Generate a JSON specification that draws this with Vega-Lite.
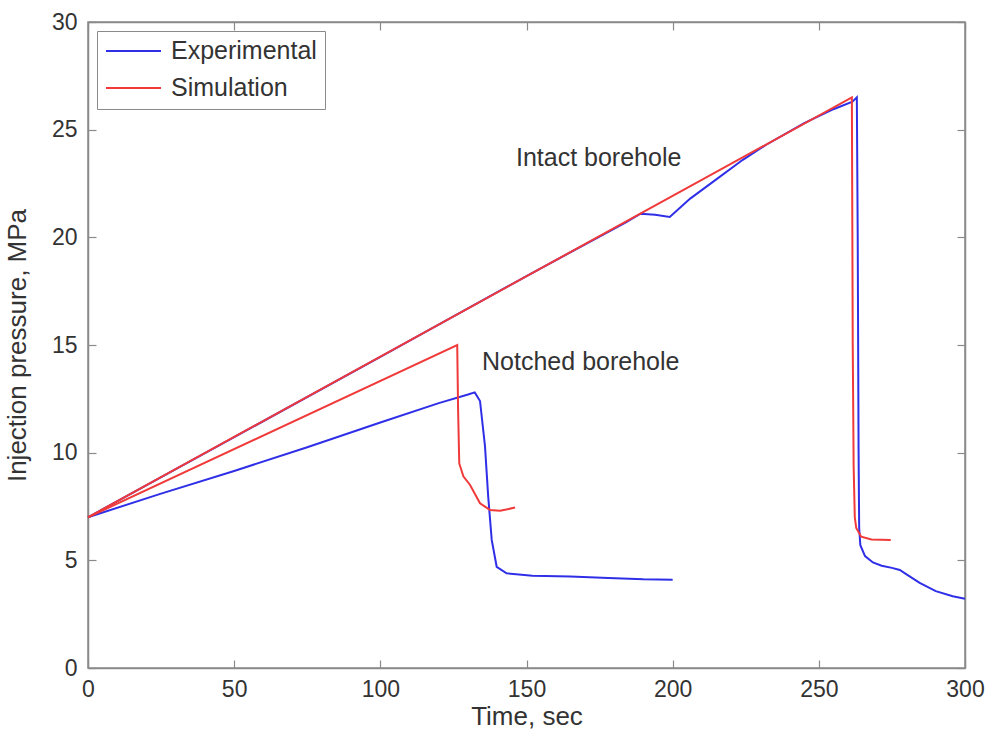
{
  "$schema": "https://vega.github.io/schema/vega-lite/v6.json",
  "width": 877,
  "height": 646,
  "autosize": {"type": "none"},
  "padding": {"left": 88, "top": 22, "right": 26, "bottom": 64},
  "background": "white",
  "config": {
    "font": "Liberation Sans",
    "view": {"stroke": "#8a8a8a", "strokeWidth": 1.5},
    "axis": {
      "grid": false,
      "domainColor": "#8a8a8a",
      "domainWidth": 1.5,
      "tickColor": "#8a8a8a",
      "tickWidth": 1.2,
      "tickSize": -8,
      "labelFlush": false,
      "labelFont": "Liberation Sans",
      "labelFontSize": 23,
      "labelColor": "#333333",
      "titleFont": "Liberation Sans",
      "titleFontSize": 26,
      "titleFontWeight": "normal",
      "titleColor": "#333333"
    }
  },
  "datasets": {
    "lines": [
      {"series": "Experimental", "case": "intact", "t": 0, "p": 7.0},
      {"series": "Experimental", "case": "intact", "t": 50, "p": 10.72},
      {"series": "Experimental", "case": "intact", "t": 100, "p": 14.45},
      {"series": "Experimental", "case": "intact", "t": 150, "p": 18.2},
      {"series": "Experimental", "case": "intact", "t": 184, "p": 20.7},
      {"series": "Experimental", "case": "intact", "t": 189, "p": 21.1},
      {"series": "Experimental", "case": "intact", "t": 194, "p": 21.05},
      {"series": "Experimental", "case": "intact", "t": 199, "p": 20.95},
      {"series": "Experimental", "case": "intact", "t": 206, "p": 21.8},
      {"series": "Experimental", "case": "intact", "t": 214, "p": 22.6},
      {"series": "Experimental", "case": "intact", "t": 224, "p": 23.6},
      {"series": "Experimental", "case": "intact", "t": 232, "p": 24.3},
      {"series": "Experimental", "case": "intact", "t": 245, "p": 25.3},
      {"series": "Experimental", "case": "intact", "t": 255, "p": 25.95},
      {"series": "Experimental", "case": "intact", "t": 261.5, "p": 26.3},
      {"series": "Experimental", "case": "intact", "t": 263, "p": 26.5},
      {"series": "Experimental", "case": "intact", "t": 263.3, "p": 20.0},
      {"series": "Experimental", "case": "intact", "t": 263.6, "p": 10.0},
      {"series": "Experimental", "case": "intact", "t": 263.8, "p": 6.5},
      {"series": "Experimental", "case": "intact", "t": 264.2, "p": 5.7},
      {"series": "Experimental", "case": "intact", "t": 265.8, "p": 5.2},
      {"series": "Experimental", "case": "intact", "t": 268.5, "p": 4.9},
      {"series": "Experimental", "case": "intact", "t": 271.5, "p": 4.75},
      {"series": "Experimental", "case": "intact", "t": 275, "p": 4.65},
      {"series": "Experimental", "case": "intact", "t": 277.7, "p": 4.55},
      {"series": "Experimental", "case": "intact", "t": 280, "p": 4.35},
      {"series": "Experimental", "case": "intact", "t": 284.5, "p": 3.95},
      {"series": "Experimental", "case": "intact", "t": 290, "p": 3.57},
      {"series": "Experimental", "case": "intact", "t": 295.8, "p": 3.33},
      {"series": "Experimental", "case": "intact", "t": 300, "p": 3.22},

      {"series": "Experimental", "case": "notched", "t": 0, "p": 7.0},
      {"series": "Experimental", "case": "notched", "t": 25, "p": 8.1},
      {"series": "Experimental", "case": "notched", "t": 50, "p": 9.15},
      {"series": "Experimental", "case": "notched", "t": 75, "p": 10.25},
      {"series": "Experimental", "case": "notched", "t": 100, "p": 11.4},
      {"series": "Experimental", "case": "notched", "t": 120, "p": 12.3},
      {"series": "Experimental", "case": "notched", "t": 130, "p": 12.7},
      {"series": "Experimental", "case": "notched", "t": 132.3, "p": 12.8},
      {"series": "Experimental", "case": "notched", "t": 134.1, "p": 12.4},
      {"series": "Experimental", "case": "notched", "t": 135.8, "p": 10.3},
      {"series": "Experimental", "case": "notched", "t": 136.9, "p": 7.96},
      {"series": "Experimental", "case": "notched", "t": 138.1, "p": 5.95},
      {"series": "Experimental", "case": "notched", "t": 139.8, "p": 4.7},
      {"series": "Experimental", "case": "notched", "t": 143.2, "p": 4.4},
      {"series": "Experimental", "case": "notched", "t": 152, "p": 4.28},
      {"series": "Experimental", "case": "notched", "t": 165, "p": 4.25},
      {"series": "Experimental", "case": "notched", "t": 178, "p": 4.18},
      {"series": "Experimental", "case": "notched", "t": 190, "p": 4.12},
      {"series": "Experimental", "case": "notched", "t": 200, "p": 4.1},

      {"series": "Simulation", "case": "intact", "t": 0, "p": 7.0},
      {"series": "Simulation", "case": "intact", "t": 261.3, "p": 26.5},
      {"series": "Simulation", "case": "intact", "t": 261.6, "p": 15.0},
      {"series": "Simulation", "case": "intact", "t": 261.9, "p": 9.4},
      {"series": "Simulation", "case": "intact", "t": 262.3, "p": 7.0},
      {"series": "Simulation", "case": "intact", "t": 262.8, "p": 6.5},
      {"series": "Simulation", "case": "intact", "t": 264.5, "p": 6.1},
      {"series": "Simulation", "case": "intact", "t": 268, "p": 5.97},
      {"series": "Simulation", "case": "intact", "t": 274.6, "p": 5.95},

      {"series": "Simulation", "case": "notched", "t": 0, "p": 7.0},
      {"series": "Simulation", "case": "notched", "t": 126.3, "p": 15.0},
      {"series": "Simulation", "case": "notched", "t": 126.6, "p": 12.0},
      {"series": "Simulation", "case": "notched", "t": 127.0, "p": 9.5},
      {"series": "Simulation", "case": "notched", "t": 128.4, "p": 8.9},
      {"series": "Simulation", "case": "notched", "t": 130.7, "p": 8.5},
      {"series": "Simulation", "case": "notched", "t": 134.1, "p": 7.65},
      {"series": "Simulation", "case": "notched", "t": 137.5, "p": 7.34},
      {"series": "Simulation", "case": "notched", "t": 141, "p": 7.3},
      {"series": "Simulation", "case": "notched", "t": 146.1, "p": 7.45}
    ],
    "labels": [
      {"t": 146.4, "p": 23.7, "label": "Intact borehole"},
      {"t": 134.8, "p": 14.2, "label": "Notched borehole"}
    ]
  },
  "layer": [
    {
      "data": {"name": "lines"},
      "mark": {"type": "line", "strokeWidth": 2, "interpolate": "linear"},
      "encoding": {
        "x": {
          "field": "t", "type": "quantitative",
          "scale": {"domain": [0, 300], "nice": false, "zero": false},
          "axis": {"title": "Time, sec", "values": [0, 50, 100, 150, 200, 250, 300], "labelPadding": 18, "titlePadding": 2}
        },
        "y": {
          "field": "p", "type": "quantitative",
          "scale": {"domain": [0, 30], "nice": false, "zero": false},
          "axis": {"title": "Injection pressure, MPa", "values": [0, 5, 10, 15, 20, 25, 30], "labelPadding": 19, "titlePadding": 21}
        },
        "color": {
          "field": "series", "type": "nominal",
          "scale": {"domain": ["Experimental", "Simulation"], "range": ["#2f2fe8", "#f03a3a"]},
          "legend": {
            "title": null,
            "orient": "top-left",
            "offset": 9,
            "symbolType": "stroke",
            "symbolSize": 3025,
            "symbolStrokeWidth": 2,
            "clipHeight": 24,
            "labelFontSize": 25,
            "labelOffset": 9,
            "labelColor": "#333333",
            "labelFont": "Liberation Sans",
            "strokeColor": "#8a8a8a",
            "fillColor": "white",
            "padding": 8,
            "rowPadding": 12
          }
        },
        "detail": {"field": "case"},
        "order": {"field": "t", "type": "quantitative"}
      }
    },
    {
      "data": {"name": "labels"},
      "mark": {"type": "text", "align": "left", "baseline": "middle", "fontSize": 25, "color": "#333333", "font": "Liberation Sans"},
      "encoding": {
        "x": {"field": "t", "type": "quantitative", "axis": null},
        "y": {"field": "p", "type": "quantitative", "axis": null},
        "text": {"field": "label"}
      }
    },
    {
      "data": {"name": "labels"},
      "mark": {"type": "point", "opacity": 0},
      "encoding": {
        "x": {"field": "t", "type": "quantitative", "axis": {"orient": "top", "values": [0, 50, 100, 150, 200, 250, 300], "labels": false, "title": null}},
        "y": {"field": "p", "type": "quantitative", "axis": {"orient": "right", "values": [0, 5, 10, 15, 20, 25, 30], "labels": false, "title": null}}
      }
    }
  ],
  "resolve": {"axis": {"x": "independent", "y": "independent"}}
}
